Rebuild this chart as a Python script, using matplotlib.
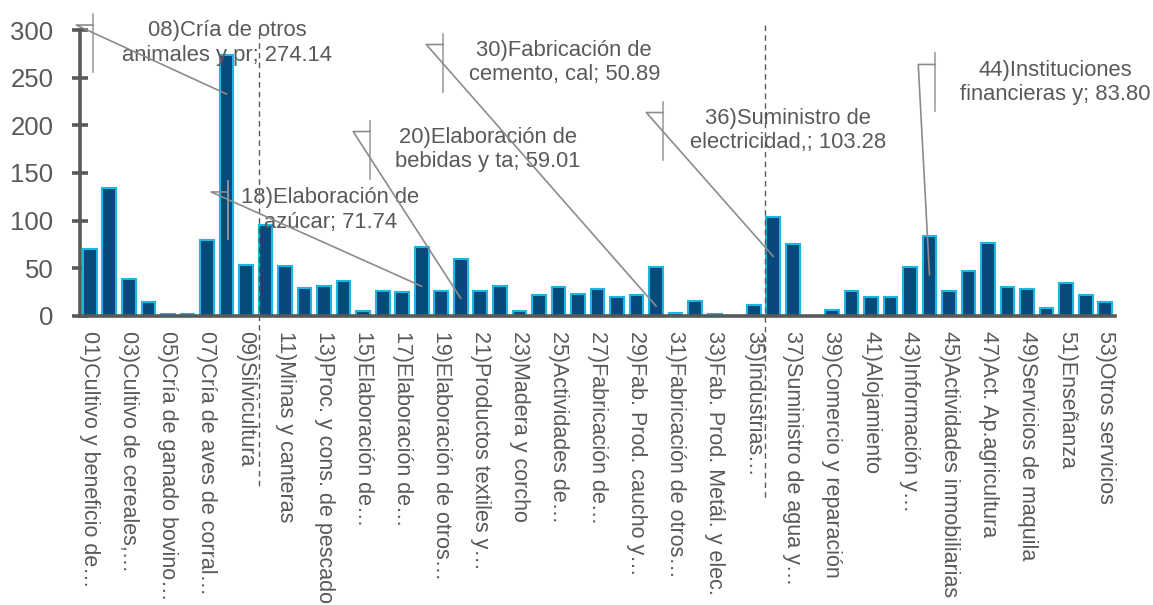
import matplotlib
matplotlib.use("Agg")
import matplotlib.pyplot as plt
from matplotlib.lines import Line2D
from matplotlib.transforms import IdentityTransform

plt.rcParams['font.family'] = ['Liberation Sans', 'DejaVu Sans']

# Values per activity (01..53)
values = [
    70.0, 134.5, 38.0, 14.0, 1.5, 2.0, 80.0, 274.14, 53.5, 95.0,
    52.0, 29.0, 31.5, 36.0, 5.0, 25.5, 24.5, 71.74, 25.5, 59.01,
    26.3, 30.9, 4.5, 21.4, 29.8, 22.8, 27.7, 20.0, 21.4, 50.89,
    2.8, 15.2, 1.2, 0.0, 10.9, 103.28, 75.5, 0.0, 6.3, 25.6,
    19.3, 19.3, 50.9, 83.80, 25.3, 46.7, 76.5, 30.5, 28.0, 8.0,
    34.0, 22.0, 14.0,
]

# Labels shown on every other category
tick_labels = [
    "01)Cultivo y beneficio de…", "03)Cultivo de cereales,…",
    "05)Cría de ganado bovino…", "07)Cría de aves de corral…",
    "09)Silvicultura", "11)Minas y canteras",
    "13)Proc. y cons. de pescado", "15)Elaboración de…",
    "17)Elaboración de…", "19)Elaboración de otros…",
    "21)Productos textiles y…", "23)Madera y corcho",
    "25)Actividades de…", "27)Fabricación de…",
    "29)Fab. Prod. caucho y…", "31)Fabricación de otros…",
    "33)Fab. Prod. Metál. y elec.", "35)Industrias…",
    "37)Suministro de agua y…", "39)Comercio y reparación",
    "41)Alojamiento", "43)Información y…",
    "45)Actividades inmobiliarias", "47)Act. Ap.agricultura",
    "49)Servicios de maquila", "51)Enseñanza", "53)Otros servicios",
]
tick_positions = list(range(1, 54, 2))

# Highlighted activities with callouts
callout_codes = [8, 18, 20, 30, 36, 44]
callout_names = [
    "Cría de otros\nanimales y pr",
    "Elaboración de\nazúcar",
    "Elaboración de\nbebidas y ta",
    "Fabricación de\ncemento, cal",
    "Suministro de\nelectricidad,",
    "Instituciones\nfinancieras y",
]

# Sector boundaries (primary | secondary | tertiary)
sector_breaks = [9.65, 35.6]

# ---- layout ----
callout_layout = [  # text centre (x, y in data units), flag offset in px
    (8.04, 286.8, -134),
    (13.31, 111.1, -102),
    (21.40, 174.7, -118),
    (25.30, 266.3, -121),
    (36.77, 194.7, -125),
    (50.44, 245.3, -120),
]

TEXT = '#595959'
AXIS = '#595959'
LEADER = '#8c8c8c'
FLAG = '#a0a0a0'
FS_NOTE = 15.8
FS_TICK = 15.5

fig = plt.figure(figsize=(11.53, 6.05), dpi=100)
ax = fig.add_axes([80 / 1153, 0.4785, (1115 - 80) / 1153, 0.9496 - 0.4785])

x = list(range(1, len(values) + 1))
ax.bar(x, values, width=0.7, color='#07497a', edgecolor='#1db6e2',
       linewidth=1.5, zorder=2)

ax.set_xlim(0.5, 53.5)
ax.set_ylim(0, 300)
ax.set_yticks(range(0, 301, 50))
ax.set_xticks(tick_positions)
ax.set_xticklabels(tick_labels, rotation=270, fontsize=FS_TICK, color=TEXT)

for s in ('top', 'right'):
    ax.spines[s].set_visible(False)
for s in ('left', 'bottom'):
    ax.spines[s].set_color(AXIS)
    ax.spines[s].set_linewidth(2.6)
    ax.spines[s].set_zorder(3)

ax.tick_params(axis='y', direction='inout', length=11, width=2.6,
               color=AXIS, labelcolor=TEXT, labelsize=18.5, pad=13.5)
ax.tick_params(axis='x', length=0, pad=11)

# Sector dividers
for xb, (y0, y1) in zip(sector_breaks, [(297, -181.6), (305.8, -192)]):
    ax.plot([xb, xb], [y0, y1], color=AXIS, lw=1.0, ls=(0, (4, 3)),
            clip_on=False, zorder=4)

# Callouts with leader lines
LEADER_DROP = 41
for code, name, (xc, yc, dx) in zip(callout_codes, callout_names, callout_layout):
    val = values[code - 1]
    ax.text(xc, yc, f"{code:02d}){name}; {val:.2f}", ha='center', va='center',
            ma='center', fontsize=FS_NOTE, color=TEXT, linespacing=1.22, zorder=3)
    tx, ty = ax.transData.transform((xc, yc))
    fx = tx + dx
    bx, by = ax.transData.transform((code, val - LEADER_DROP))
    fig.add_artist(Line2D([fx, fx], [ty - 29, ty + 29], color=FLAG, lw=1.2,
                          transform=IdentityTransform(), zorder=5))
    fig.add_artist(Line2D([fx, fx - 17, bx], [ty + 18, ty + 18, by],
                          color=LEADER, lw=1.2,
                          transform=IdentityTransform(), zorder=5))

fig.savefig('out.png', dpi=100)
